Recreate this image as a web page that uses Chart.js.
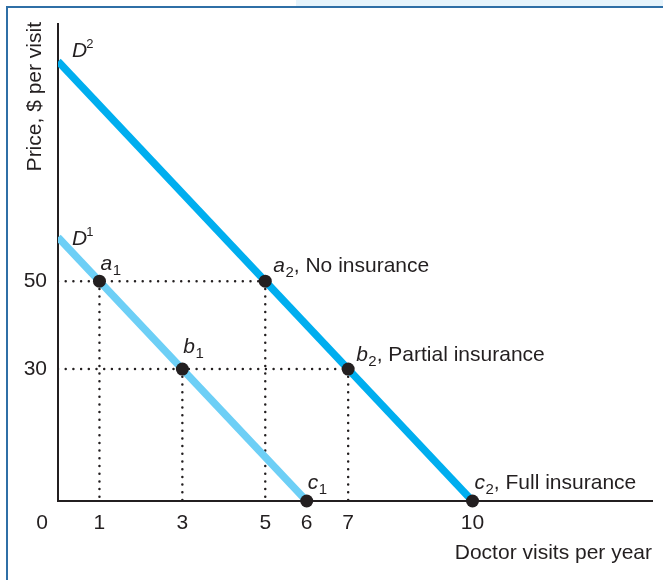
<!DOCTYPE html>
<html>
<head>
<meta charset="utf-8">
<script src="https://cdn.jsdelivr.net/npm/chart.js@4/dist/chart.umd.min.js"></script>
<style>
  html, body { margin: 0; padding: 0; background: #fff; }
  #chart { display: block; }
</style>
</head>
<body>
<canvas id="chart" width="663" height="580"></canvas>
<script>
// demand curves (visits per year, price per visit)
var d1Visits = [0, 6];
var d1Price = [60, 0];
var d2Visits = [0, 10];
var d2Price = [100, 0];
var curveNames = ["D", "D"];
var curveSups = ["1", "2"];

// labelled points on the curves
var pointNames = ["a", "b", "c", "a", "b", "c"];
var pointSubs = ["1", "1", "1", "2", "2", "2"];
var pointNotes = ["", "", "", ", No insurance", ", Partial insurance", ", Full insurance"];
var pointVisits = [1, 3, 6, 5, 7, 10];
var pointPrice = [50, 30, 0, 50, 30, 0];

var xTicks = [1, 3, 5, 6, 7, 10];
var yTicks = [30, 50];

var INK = "#231f20";
var FONT = '"Liberation Sans", Arial, Helvetica, sans-serif';

function pairs(xs, ys) {
    return xs.map(function (x, i) { return { x: x, y: ys[i] }; });
}

// dotted guides: down from each point, across at each price level
var guideSets = [];
pointVisits.forEach(function (q, i) {
    if (pointPrice[i] > 0) guideSets.push([{ x: q, y: pointPrice[i] }, { x: q, y: 0 }]);
});
yTicks.forEach(function (p) {
    var far = 0;
    pointVisits.forEach(function (q, i) { if (pointPrice[i] === p && q > far) far = q; });
    guideSets.push([{ x: 0, y: p }, { x: far, y: p }]);
});

var datasets = [];
datasets.push({
    data: pairs(pointVisits, pointPrice),
    showLine: false,
    pointRadius: 6.5,
    pointBackgroundColor: INK,
    pointBorderWidth: 0,
    clip: false,
    order: 0
});
datasets.push({
    data: pairs(d2Visits, d2Price),
    showLine: true,
    borderColor: "#00aeef",
    borderWidth: 7.5,
    pointRadius: 0,
    order: 1
});
datasets.push({
    data: pairs(d1Visits, d1Price),
    showLine: true,
    borderColor: "#6dcff6",
    borderWidth: 7.5,
    pointRadius: 0,
    order: 1
});
guideSets.forEach(function (g) {
    datasets.push({
        data: g,
        showLine: true,
        borderColor: INK,
        borderWidth: 2.5,
        borderDash: [0, 7.7],
        borderCapStyle: "round",
        pointRadius: 0,
        order: 2
    });
});

// where each text label sits relative to its point (px)
var pointLabelOffsets = [[1, -11], [1, -16], [1, -12], [8, -9], [8, -8], [2, -12]];
var curveLabelOffsets = [[14, 8], [14, -4]];

var textPlugin = {
    id: "textPlugin",
    beforeDraw: function (chart) {
        var ctx = chart.ctx;
        ctx.save();
        ctx.fillStyle = "#e6f4fc";
        ctx.fillRect(296, 0, 367, 6);
        ctx.strokeStyle = "#2f6fa6";
        ctx.lineWidth = 2;
        ctx.beginPath();
        ctx.moveTo(7, 580);
        ctx.lineTo(7, 7);
        ctx.lineTo(663, 7);
        ctx.stroke();
        ctx.restore();
    },
    afterDatasetsDraw: function (chart) {
        var ctx = chart.ctx;
        var xs = chart.scales.x, ys = chart.scales.y;
        ctx.save();
        ctx.fillStyle = INK;
        ctx.textBaseline = "alphabetic";
        ctx.textAlign = "left";

        // point labels
        pointNames.forEach(function (n, i) {
            var px = xs.getPixelForValue(pointVisits[i]) + pointLabelOffsets[i][0];
            var py = ys.getPixelForValue(pointPrice[i]) + pointLabelOffsets[i][1];
            ctx.font = "italic 21px " + FONT;
            ctx.fillText(n, px, py);
            px += ctx.measureText(n).width + 0.5;
            ctx.font = "15px " + FONT;
            ctx.fillText(pointSubs[i], px, py + 5);
            px += ctx.measureText(pointSubs[i]).width;
            if (pointNotes[i]) {
                ctx.font = "21px " + FONT;
                ctx.fillText(pointNotes[i], px, py);
            }
        });

        // curve labels
        var curves = [[d1Visits, d1Price], [d2Visits, d2Price]];
        curves.forEach(function (c, i) {
            var px = xs.getPixelForValue(c[0][0]) + curveLabelOffsets[i][0];
            var py = ys.getPixelForValue(c[1][0]) + curveLabelOffsets[i][1];
            ctx.font = "italic 21px " + FONT;
            ctx.fillText(curveNames[i], px, py);
            px += ctx.measureText(curveNames[i]).width - 1;
            ctx.font = "13px " + FONT;
            ctx.fillText(curveSups[i], px, py - 9);
        });

        // origin label and axis titles
        ctx.font = "21px " + FONT;
        ctx.textAlign = "center";
        ctx.textBaseline = "middle";
        ctx.fillText("0", xs.getPixelForValue(0) - 16, chart.chartArea.bottom + 22.5);

        ctx.textAlign = "right";
        ctx.textBaseline = "alphabetic";
        ctx.fillText("Doctor visits per year", chart.chartArea.right, 559);

        ctx.translate(41, 22);
        ctx.rotate(-Math.PI / 2);
        ctx.fillText("Price, $ per visit", 0, 0);
        ctx.restore();
    }
};

var chart = new Chart(document.getElementById("chart").getContext("2d"), {
    type: "scatter",
    data: { datasets: datasets },
    options: {
        responsive: false,
        animation: false,
        layout: { padding: { top: 23, right: 11, left: 0, bottom: 0 } },
        plugins: { legend: { display: false }, tooltip: { enabled: false } },
        scales: {
            x: {
                type: "linear",
                min: 0,
                max: 14.33,
                grid: { display: false, drawTicks: false },
                border: { display: true, color: INK, width: 2 },
                ticks: {
                    color: INK,
                    font: { family: FONT, size: 21 },
                    padding: 10,
                    maxRotation: 0,
                    autoSkip: false
                },
                afterBuildTicks: function (s) {
                    s.ticks = xTicks.map(function (v) { return { value: v }; });
                },
                afterFit: function (s) { s.height = 79; }
            },
            y: {
                type: "linear",
                min: 0,
                max: 108.6,
                grid: { display: false, drawTicks: false },
                border: { display: true, color: INK, width: 2 },
                ticks: {
                    color: INK,
                    font: { family: FONT, size: 21 },
                    padding: 11,
                    autoSkip: false
                },
                afterBuildTicks: function (s) {
                    s.ticks = yTicks.map(function (v) { return { value: v }; });
                },
                afterFit: function (s) { s.width = 58; }
            }
        }
    },
    plugins: [textPlugin]
});
</script>
</body>
</html>
